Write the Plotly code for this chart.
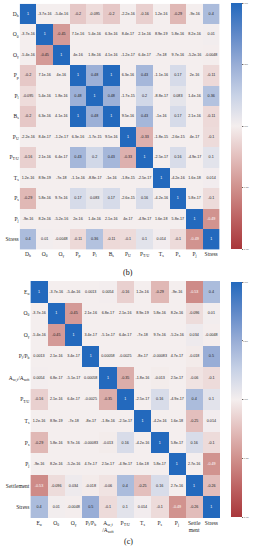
import plotly.graph_objects as go

# ---------------- data (b) ----------------
labels_b_y = ["D<sub>h</sub>", "O<sub>θ</sub>", "O<sub>γ</sub>", "P<sub>p</sub>", "P<sub>l</sub>", "B<sub>s</sub>",
              "P<sub>U</sub>", "P<sub>T/U</sub>", "T<sub>s</sub>", "P<sub>s</sub>", "P<sub>j</sub>", "Stress"]
labels_b_x = labels_b_y
corr_b = [
    [1, -3.7e-16, -5.4e-16, -0.2, -0.095, -0.2, -2.2e-16, -0.16, 1.2e-16, -0.29, -9e-16, 0.4],
    [-3.7e-16, 1, -0.45, 7.1e-16, 5.4e-16, 6.3e-16, 8.4e-17, 2.1e-16, 8.9e-19, 5.8e-16, 8.2e-16, 0.01],
    [-5.4e-16, -0.45, 1, 4e-16, 1.8e-16, 4.1e-16, -1.2e-17, 6.4e-17, -7e-18, 9.7e-16, -5.2e-16, -0.0048],
    [-0.2, 7.1e-16, 4e-16, 1, 0.48, 1, 6.3e-16, 0.43, -1.1e-16, 0.17, 2e-16, -0.11],
    [-0.095, 5.4e-16, 1.8e-16, 0.48, 1, 0.48, -1.7e-15, 0.2, -8.8e-17, 0.083, 1.4e-16, 0.36],
    [-0.2, 6.3e-16, 4.1e-16, 1, 0.48, 1, 9.5e-16, 0.43, -1e-16, 0.17, 2.1e-16, -0.11],
    [-2.2e-16, 8.4e-17, -1.2e-17, 6.3e-16, -1.7e-15, 9.5e-16, 1, -0.33, -1.8e-15, -2.6e-15, 4e-17, -0.1],
    [-0.16, 2.1e-16, 6.4e-17, 0.43, 0.2, 0.43, -0.33, 1, -2.5e-17, 0.16, -4.9e-17, 0.1],
    [1.2e-16, 8.9e-19, -7e-18, -1.1e-16, -8.8e-17, -1e-16, -1.8e-15, -2.5e-17, 1, -4.2e-16, 1.6e-18, 0.014],
    [-0.29, 5.8e-16, 9.7e-16, 0.17, 0.083, 0.17, -2.6e-15, 0.16, -4.2e-16, 1, 5.8e-17, -0.1],
    [-9e-16, 8.2e-16, -5.2e-16, 2e-16, 1.4e-16, 2.1e-16, 4e-17, -4.9e-17, 1.6e-18, 5.8e-17, 1, -0.49],
    [0.4, 0.01, -0.0048, -0.11, 0.36, -0.11, -0.1, 0.1, 0.014, -0.1, -0.49, 1],
]

# ---------------- data (c) ----------------
labels_c_y = ["E<sub>u</sub>", "O<sub>θ</sub>", "O<sub>γ</sub>", "P<sub>l</sub>/P<sub>b</sub>",
              "A<sub>sc,f</sub>/A<sub>soft</sub>", "P<sub>T/U</sub>", "T<sub>s</sub>", "P<sub>s</sub>",
              "P<sub>j</sub>", "Settlement", "Stress"]
labels_c_x = ["E<sub>u</sub>", "O<sub>θ</sub>", "O<sub>γ</sub>", "P<sub>l</sub>/P<sub>b</sub>",
              "A<sub>sc,f</sub><br>/A<sub>soft</sub>", "P<sub>T/U</sub>", "T<sub>s</sub>", "P<sub>s</sub>",
              "P<sub>j</sub>", "Settle<br>ment", "Stress"]
corr_c = [
    [1, -3.7e-16, -5.4e-16, 0.0013, 0.0054, -0.16, 1.2e-16, -0.29, -9e-16, -0.53, 0.4],
    [-3.7e-16, 1, -0.45, 2.1e-16, 6.8e-17, 2.1e-16, 8.9e-19, 5.8e-16, 8.2e-16, -0.096, 0.01],
    [-5.4e-16, -0.45, 1, 3.4e-17, -5.1e-17, 6.4e-17, -7e-18, 9.7e-16, -5.2e-16, 0.034, -0.0048],
    [0.0013, 2.1e-16, 3.4e-17, 1, 0.00058, -0.0025, -8e-17, -0.00083, 4.7e-17, -0.018, 0.5],
    [0.0054, 6.8e-17, -5.1e-17, 0.00058, 1, -0.35, -1.8e-16, -0.013, 2.5e-17, -0.06, -0.1],
    [-0.16, 2.1e-16, 6.4e-17, -0.0025, -0.35, 1, -2.5e-17, 0.16, -4.9e-17, 0.4, 0.1],
    [1.2e-16, 8.9e-19, -7e-18, -8e-17, -1.8e-16, -2.5e-17, 1, -4.2e-16, 1.6e-18, -0.25, 0.014],
    [-0.29, 5.8e-16, 9.7e-16, -0.00083, -0.013, 0.16, -4.2e-16, 1, 5.8e-17, 0.16, -0.1],
    [-9e-16, 8.2e-16, -5.2e-16, 4.7e-17, 2.5e-17, -4.9e-17, 1.6e-18, 5.8e-17, 1, 2.7e-16, -0.49],
    [-0.53, -0.096, 0.034, -0.018, -0.06, 0.4, -0.25, 0.16, 2.7e-16, 1, -0.26],
    [0.4, 0.01, -0.0048, 0.5, -0.1, 0.1, 0.014, -0.1, -0.49, -0.26, 1],
]

cbar_ticks = [1, 0.5, 0, -0.5, -1]
cbar_ticktext = ["1.00", "0.50", "0.00", "-0.50", "-1.00"]

# vlag reversed (red negative -> blue positive)
colorscale = [
    [0.0, "#a9373b"], [0.125, "#bd6262"], [0.25, "#d0918d"], [0.375, "#e3bfbd"],
    [0.5, "#f4eeee"], [0.625, "#c8d2e6"], [0.75, "#98add6"], [0.875, "#5f88c8"], [1.0, "#2369bd"],
]

W, H = 258, 550
fig = go.Figure()


def add_panel(mat, xl, yl, xaxis, yaxis, xdom, ydom, cb):
    n = len(mat)
    idx = list(range(n))
    fig.add_trace(go.Heatmap(
        z=mat, x=idx, y=idx, zmin=-1, zmax=1, colorscale=colorscale,
        xaxis=xaxis, yaxis=yaxis, hoverinfo="skip",
        colorbar=dict(x=cb[0] / W, xanchor="left", thickness=cb[1] - cb[0],
                      y=1 - cb[2] / H, yanchor="top", len=(cb[3] - cb[2]) / H, lenmode="fraction",
                      outlinewidth=0, ypad=0, xpad=0,
                      tickvals=cbar_ticks, ticktext=cbar_ticktext, ticks="outside", ticklen=1,
                      tickwidth=0.5, tickcolor="#666",
                      tickfont=dict(size=2.5, color="#555", family="Liberation Sans")),
    ))
    xs, ys, ts, cs = [], [], [], []
    for i in range(n):
        for j in range(n):
            v = mat[i][j]
            xs.append(j)
            ys.append(i)
            ts.append(format(v, ".2g"))
            cs.append("white" if (v >= 0.9 or v <= -0.47) else "#222")
    fig.add_trace(go.Scatter(
        x=xs, y=ys, text=ts, mode="text", xaxis=xaxis, yaxis=yaxis,
        textfont=dict(size=3.7, color=cs, family="Liberation Sans"), hoverinfo="skip", showlegend=False,
    ))
    ax = dict(domain=xdom, tickvals=idx, ticktext=xl, showgrid=False, zeroline=False, ticks="",
              tickfont=dict(size=5.5, family="Liberation Serif", color="#222"), tickangle=0,
              range=[-0.5, n - 0.5], showline=False, automargin=False)
    ay = dict(domain=ydom, tickvals=idx, ticktext=yl, showgrid=False, zeroline=False, ticks="",
              tickfont=dict(size=5.5, family="Liberation Serif", color="#222"),
              range=[n - 0.5, -0.5], showline=False, automargin=False)
    return ax, ay


axb, ayb = add_panel(corr_b, labels_b_x, labels_b_y, "x", "y",
                     [19.7 / W, 219.5 / W], [1 - 249.5 / H, 1 - 3.8 / H], (231, 242, 3, 249))
axc, ayc = add_panel(corr_c, labels_c_x, labels_c_y, "x2", "y2",
                     [30.4 / W, 220 / W], [1 - 518 / H, 1 - 281 / H], (231, 242, 282, 517))
axb["anchor"] = "y"
ayb["anchor"] = "x"
axc["anchor"] = "y2"
ayc["anchor"] = "x2"

fig.update_layout(
    width=W, height=H, margin=dict(l=0, r=0, t=0, b=0),
    paper_bgcolor="white", plot_bgcolor="white", showlegend=False,
    xaxis=axb, yaxis=ayb, xaxis2=axc, yaxis2=ayc,
    annotations=[
        dict(text="(b)", x=128 / W, y=1 - 272 / H, xref="paper", yref="paper", showarrow=False,
             font=dict(size=8, family="Liberation Serif", color="#111"), xanchor="center", yanchor="middle"),
        dict(text="(c)", x=128 / W, y=1 - 541 / H, xref="paper", yref="paper", showarrow=False,
             font=dict(size=8, family="Liberation Serif", color="#111"), xanchor="center", yanchor="middle"),
    ],
)

fig.write_html("out.html", config={"displayModeBar": False},
               post_script="document.body.style.margin='0';")
